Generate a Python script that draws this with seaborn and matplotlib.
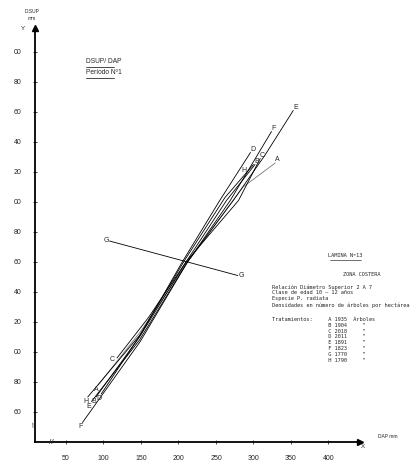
import numpy as np
import pandas as pd
import seaborn as sns
import matplotlib.pyplot as plt

# curves DSUP vs DAP (mm) per tratamiento
dap_a = [93, 150, 212, 286, 329]
dsup_a = [78, 114, 160, 210, 226]
dap_b = [90, 148, 210, 264, 302]
dsup_b = [70, 110, 160, 201, 225]
dap_c = [118, 160, 210, 280, 309]
dsup_c = [96, 123, 160, 201, 229]
dap_d = [97, 150, 205, 255, 296]
dsup_d = [72, 112, 160, 201, 233]
dap_e = [84, 148, 212, 273, 315, 353]
dsup_e = [67, 108, 160, 201, 231, 261]
dap_f = [72, 149, 212, 269, 324]
dsup_f = [53, 107, 160, 201, 247]
dap_g = [108, 279]
dsup_g = [174, 151]
dap_h = [79, 148, 208, 262, 300]
dsup_h = [70, 111, 161, 203, 225]

tratamientos = ["A", "B", "C", "D", "E", "F", "G", "H"]
densidades = [1935, 1904, 2018, 2011, 1891, 1823, 1770, 1790]
x_ticks = [50, 100, 150, 200, 250, 300, 350, 400]
y_ticks = [60, 80, 100, 120, 140, 160, 180, 200, 220, 240, 260, 280, 300]

curves = {
    "A": (dap_a, dsup_a), "B": (dap_b, dsup_b), "C": (dap_c, dsup_c),
    "D": (dap_d, dsup_d), "E": (dap_e, dsup_e), "F": (dap_f, dsup_f),
    "G": (dap_g, dsup_g), "H": (dap_h, dsup_h),
}
rows = []
for t, (xs, ys) in curves.items():
    for i, (x, y) in enumerate(zip(xs, ys)):
        rows.append({"trat": t, "dap": x, "dsup": y, "orden": i})
df = pd.DataFrame(rows)

sns.set_style("white")
plt.rcParams["font.family"] = ["Liberation Sans", "DejaVu Sans"]

W, H = 411, 463
fig = plt.figure(figsize=(W / 100, H / 100), dpi=100)


def fpos(x, y):
    return x / W, 1 - y / H


ax = fig.add_axes([35 / W, 1 - 442 / H, (360 - 35) / W, (442 - 28) / H])
ax.set_xlim(8.7, 442)
ax.set_ylim(40, 316)

palette = {t: "black" for t in tratamientos}
palette["A"] = "#777777"
sns.lineplot(data=df, x="dap", y="dsup", hue="trat", units="trat", estimator=None,
             sort=False, palette=palette, linewidth=0.6, legend=False, ax=ax)

# labels at both ends of each curve
lab = dict(fontsize=5, ha="center", va="center")
for t, (xs, ys) in curves.items():
    if t == "G":
        ax.text(xs[0] - 1, ys[0], t, **{**lab, "ha": "right"})
        ax.text(xs[-1] + 1, ys[-1], t, **{**lab, "ha": "left"})
        continue
    if t == "C":
        ax.text(xs[0] - 6, ys[0] - 1, t, **lab)
    else:
        ax.text(xs[0] - 3, ys[0] - 3, t, **lab)
    if t == "H":
        ax.text(xs[-1] - 13, ys[-1] - 4, t, **lab)
    else:
        ax.text(xs[-1] + 3, ys[-1] + 2, t, **lab)

# axes styling
for s in ["top", "right"]:
    ax.spines[s].set_visible(False)
for s in ["left", "bottom"]:
    ax.spines[s].set_linewidth(1.3)
    ax.spines[s].set_color("black")
ax.plot(1, 40, ">", color="black", ms=4, transform=ax.get_yaxis_transform(), clip_on=False)
ax.plot(8.7, 1, "^", color="black", ms=4, transform=ax.get_xaxis_transform(), clip_on=False)

ax.set_xticks(x_ticks)
ax.set_xticklabels([str(v) for v in x_ticks])
ax.set_yticks(y_ticks)
ax.set_yticklabels([f"{v % 100:02d}" for v in y_ticks])
ax.tick_params(axis="both", direction="inout", length=3, width=0.6, labelsize=5, pad=8,
               bottom=True, left=True)
ax.set_xlabel("")
ax.set_ylabel("")

# break marks
ax.text(8.7, 51, "//", fontsize=6, ha="center", va="center", rotation=20)
ax.text(31, 40, "//", fontsize=6, ha="center", va="center")

fig.text(*fpos(32, 15), "D.SUP\nmm", fontsize=3.5, ha="center", va="center", linespacing=1.3)
fig.text(*fpos(23, 29), "Y", fontsize=4.5, ha="center", va="center")
fig.text(*fpos(378, 436), "DAP mm", fontsize=3.5, ha="left", va="center")
fig.text(*fpos(363, 447), "X", fontsize=4.5, ha="center", va="center")

# title block
fig.text(*fpos(86, 65), "DSUP/ DAP", fontsize=4.8, ha="left", va="bottom")
fig.text(*fpos(86, 76), "Período Nº1", fontsize=4.8, ha="left", va="bottom")
for y in (67, 78):
    fig.add_artist(plt.Line2D([86 / W, 114 / W], [1 - y / H] * 2, lw=0.5, color="black"))

# typed block
mono = "DejaVu Sans Mono"
fig.text(*fpos(345, 258), "LAMINA Nº13", fontsize=3.8, family=mono, ha="center", va="bottom")
fig.add_artist(plt.Line2D([330 / W, 361 / W], [1 - 260 / H] * 2, lw=0.4, color="black"))
fig.text(*fpos(362, 275), "ZONA COSTERA", fontsize=3.8, family=mono, ha="center", va="center")
info = ("Relación Diámetro Superior 2 A 7\n"
        "Clase de edad 10 — 12 años\n"
        "Especie P. radiata\n"
        "Densidades en número de árboles por hectárea")
fig.text(*fpos(272, 284), info, fontsize=3.8, family=mono, ha="left", va="top", linespacing=1.2)
lines = []
for i, (t, d) in enumerate(zip(tratamientos, densidades)):
    head = "Tratamientos:" if i == 0 else ""
    tail = "Árboles" if i == 0 else '   "'
    lines.append(f"{head:<18}{t} {d}  {tail}")
fig.text(*fpos(272, 317), "\n".join(lines), fontsize=3.8, family=mono, ha="left", va="top",
         linespacing=1.2)

fig.savefig("out.png", dpi=100)
